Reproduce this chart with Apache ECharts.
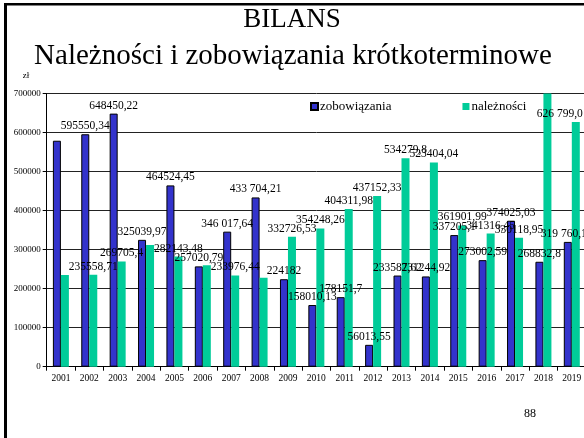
<!DOCTYPE html>
<html>
<head>
<meta charset="utf-8">
<script src="https://cdn.jsdelivr.net/npm/echarts@6/dist/echarts.min.js"></script>
<style>
  html, body { margin: 0; padding: 0; background: #fff; overflow: hidden; }
</style>
</head>
<body>
<div id="main" style="width: 610px;height:438px;"></div>
<script>
// lata
const years = ['2001', '2002', '2003', '2004', '2005', '2006', '2007', '2008', '2009', '2010',
  '2011', '2012', '2013', '2014', '2015', '2016', '2017', '2018', '2019'];

// zobowiązania krótkoterminowe
const zobowiazania = [579000, 595550.34, 648450.22, 325039.97, 464524.45, 257020.79, 346017.64, 433704.21, 224182, 158010.13,
  178151.7, 56013.55, 233587.62, 231244.92, 337205.1, 273002.59, 374025.03, 268832.8, 319760.1];
const zobowiazaniaLabels = [null, '595550,34', '648450,22', '325039,97', '464524,45', '257020,79', '346 017,64', '433 704,21', '224182', '158010,13',
  '178151,7', '56013,55', '233587,62', '231244,92', '337205,1', '273002,59', '374025,03', '268832,8', '319 760,1'];

// należności krótkoterminowe
const naleznosci = [235000, 235558.71, 269705.4, 312000, 282143.48, 260000, 233976.44, 228000, 332726.53, 354248.26,
  404311.98, 437152.33, 534279.8, 523404.04, 361901.99, 341316.45, 330118.95, 760000, 626799.0];
const naleznosciLabels = [null, '235558,71', '269705,4', null, '282143,48', null, '233976,44', null, '332726,53', '354248,26',
  '404311,98', '437152,33', '534279,8', '523404,04', '361901,99', '341316,45', '330118,95', null, '626 799,0'];

const yTicks = [0, 100000, 200000, 300000, 400000, 500000, 600000, 700000];

const serif = '"Liberation Serif", "Times New Roman", serif';

function buildData(values, labels, shifts) {
  const out = [];
  for (let i = 0; i < values.length; i++) {
    const item = { value: values[i] };
    if (labels[i] == null) {
      item.label = { show: false };
    } else {
      item.label = { show: true, formatter: labels[i] };
      if (shifts[i]) item.label.offset = shifts[i];
    }
    out.push(item);
  }
  return out;
}

const myChart = echarts.init(document.getElementById('main'));

const option = {
  backgroundColor: '#fff',
  animation: false,
  graphic: [
    { type: 'rect', shape: { x: 4, y: 3, width: 3, height: 440 }, style: { fill: '#000' } },
    { type: 'rect', shape: { x: 4, y: 3, width: 610, height: 2.5 }, style: { fill: '#000' } },
    { type: 'text', x: 292, y: 20, style: { text: 'BILANS', font: '27px ' + serif, fill: '#000', align: 'center', verticalAlign: 'middle' } },
    { type: 'text', x: 293, y: 56, style: { text: 'Należności i zobowiązania krótkoterminowe', font: '29px ' + serif, fill: '#000', align: 'center', verticalAlign: 'middle' } },
    { type: 'text', x: 26, y: 76, style: { text: 'zł', font: '9px ' + serif, fill: '#000', align: 'center', verticalAlign: 'middle' } },
    { type: 'text', x: 530, y: 414, style: { text: '88', font: '12px ' + serif, fill: '#000', align: 'center', verticalAlign: 'middle' } }
  ],
  legend: {
    left: 305,
    top: 95,
    itemWidth: 7,
    itemHeight: 7,
    itemGap: 71,
    icon: 'rect',
    textStyle: { fontFamily: serif, fontSize: 13, color: '#000', padding: [0, 0, 0, -3] },
    data: ['zobowiązania', 'należności']
  },
  grid: {
    left: 46.7,
    right: 24,
    top: 93.5,
    bottom: 71.3,
    containLabel: false
  },
  xAxis: {
    type: 'category',
    data: years,
    axisLine: { lineStyle: { color: '#000', width: 1 } },
    axisTick: { show: true, length: 4, lineStyle: { color: '#000' } },
    axisLabel: { fontFamily: serif, fontSize: 9.5, color: '#000', margin: 7 }
  },
  yAxis: {
    type: 'value',
    min: 0,
    max: yTicks[yTicks.length - 1],
    interval: yTicks[1] - yTicks[0],
    axisLine: { show: true, lineStyle: { color: '#000', width: 1 } },
    axisTick: { show: true, length: 4, lineStyle: { color: '#000' } },
    axisLabel: {
      fontFamily: serif, fontSize: 9, color: '#000', margin: 6,
      formatter: function (value) {
        return String(value);
      }
    },
    splitLine: { show: true, lineStyle: { color: '#222', width: 1 } }
  },
  series: [
    {
      name: 'zobowiązania',
      type: 'bar',
      barWidth: 8,
      barGap: '0%',
      clip: true,
      itemStyle: { color: '#3333CC', borderColor: '#000', borderWidth: 1 },
      label: { position: 'top', distance: 2, fontFamily: serif, fontSize: 11.5, color: '#000' },
      data: buildData(zobowiazania, zobowiazaniaLabels, { 18: [-4, 0] })
    },
    {
      name: 'należności',
      type: 'bar',
      barWidth: 8,
      barGap: '0%',
      clip: true,
      itemStyle: { color: '#00CC99' },
      label: { position: 'top', distance: 2, fontFamily: serif, fontSize: 11.5, color: '#000' },
      data: buildData(naleznosci, naleznosciLabels, { 18: [-16, 0] })
    }
  ]
};

myChart.setOption(option);
</script>
</body>
</html>
